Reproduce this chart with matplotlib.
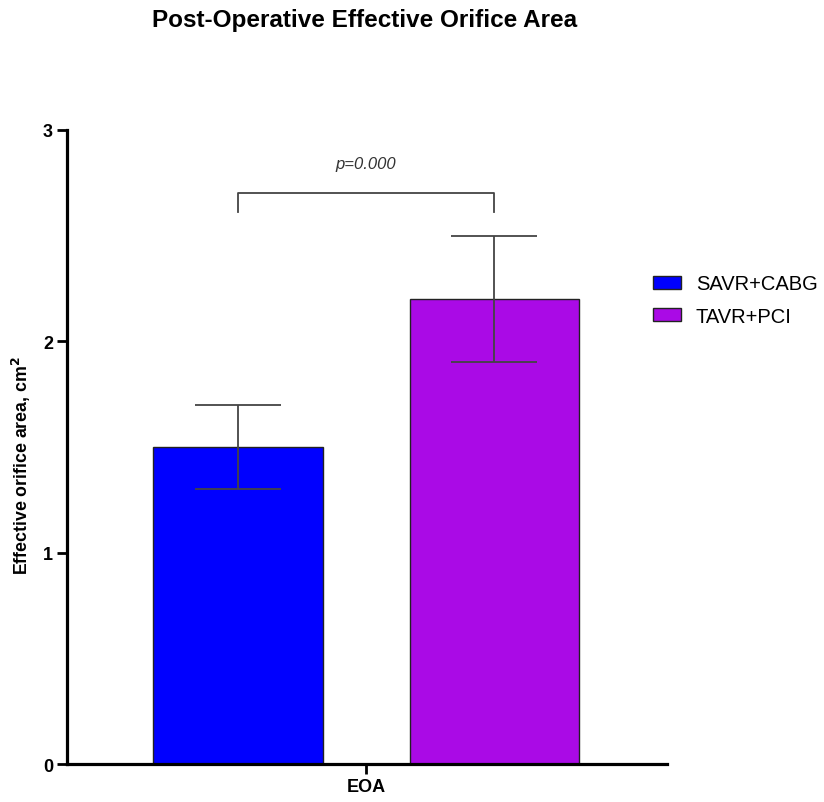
import matplotlib
matplotlib.use('Agg')
import matplotlib.pyplot as plt
from matplotlib.patches import Patch

plt.rcParams['font.family'] = ['Liberation Sans', 'DejaVu Sans']

# group values: mean and error (cm^2)
groups = ['SAVR+CABG', 'TAVR+PCI']
means = [1.5, 2.2]
errors = [0.2, 0.3]
colors = ['#0000FF', '#AA0AE6']
category = 'EOA'
p_text = 'p=0.000'

fig = plt.figure(figsize=(8.24, 8.03), dpi=100)
ax = fig.add_axes([0.0813, 0.0473, 0.7282, 0.7896])

xpos = [-0.5, 0.5]
ax.bar(xpos, means, width=0.66, color=colors, edgecolor='#222222', linewidth=1.0, zorder=2)
ax.errorbar(xpos, means, yerr=errors, fmt='none', ecolor='#444444', elinewidth=1.3,
            capsize=31, capthick=1.3, zorder=3)

# significance bracket
y_br, y_tip = 2.70, 2.61
ax.plot([xpos[0], xpos[0], xpos[1], xpos[1]], [y_tip, y_br, y_br, y_tip],
        color='#444444', lw=1.3, clip_on=False)
ax.text(0, 2.84, p_text, ha='center', va='center', fontsize=12, style='italic', color='#333333')

ax.set_xlim(-1.166, 1.173)
ax.set_ylim(0, 3)
ax.set_yticks([0, 1, 2, 3])
ax.set_xticks([0])
ax.set_xticklabels([category])
for s in ['top', 'right']:
    ax.spines[s].set_visible(False)
for s in ['left', 'bottom']:
    ax.spines[s].set_linewidth(2.3)
ax.tick_params(axis='both', width=2, length=7, labelsize=13, pad=3)
for lab in ax.get_xticklabels() + ax.get_yticklabels():
    lab.set_fontweight('bold')
ax.set_ylabel('Effective orifice area, cm$^\\mathbf{2}$', fontsize=12.8, fontweight='bold')
ax.yaxis.set_label_coords(-0.056, 0.473)

fig.text(0.443, 0.974, 'Post-Operative Effective Orifice Area', ha='center', va='center',
         fontsize=17.5, fontweight='bold')

handles = [Patch(facecolor=c, edgecolor='#222222', linewidth=1.0) for c in colors]
fig.legend(handles, groups, loc='center left', bbox_to_anchor=(0.771, 0.625), frameon=False,
           fontsize=14.5, handlelength=1.35, handleheight=0.6, labelspacing=0.68, handletextpad=0.75)

fig.savefig('out.png', dpi=100)
